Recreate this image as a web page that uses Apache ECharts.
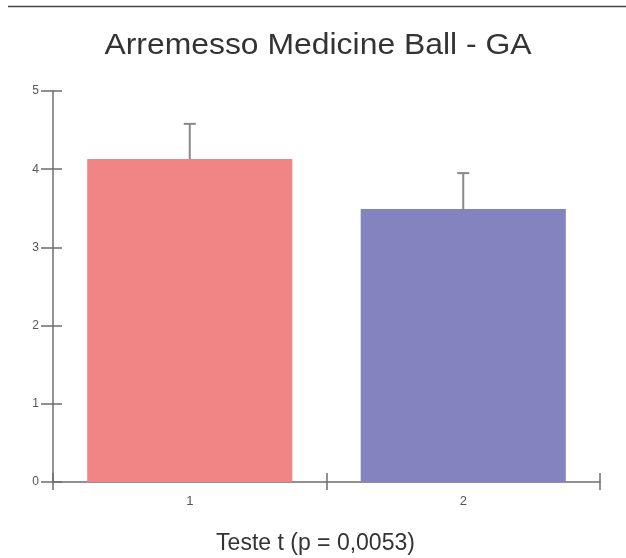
<!DOCTYPE html>
<html><head><meta charset="utf-8">
<script src="https://cdn.jsdelivr.net/npm/echarts@6/dist/echarts.min.js"></script>
<style>html,body{margin:0;padding:0;background:#fff}#c{width:626px;height:558px}</style>
</head><body><div id="c"></div>
<script>
const categories = ['1', '2'];
const means = [4.13, 3.49];
const errors = [0.45, 0.46];
const barColors = ['#F18585', '#8383BF'];
const titleText = 'Arremesso Medicine Ball - GA';
const footText = 'Teste t (p = 0,0053)';

const chart = echarts.init(document.getElementById('c'));
const font = 'Liberation Sans, Arial, sans-serif';
const axisColor = '#6e6e6e';
chart.setOption({
  animation: false,
  backgroundColor: '#fff',
  graphic: [
    { type: 'line', shape: { x1: 8, y1: 6.5, x2: 626, y2: 6.5 }, style: { stroke: '#444', lineWidth: 1.5 } },
    { type: 'text', x: 318, y: 46, scaleX: 1.1,
      style: { text: titleText, x: 0, y: 0, textAlign: 'center', textVerticalAlign: 'middle',
        align: 'center', verticalAlign: 'middle',
        font: '29px Liberation Sans, Arial, sans-serif', fill: '#333' } },
    { type: 'text', x: 315.5, y: 544,
      style: { text: footText, x: 0, y: 0, textAlign: 'center', textVerticalAlign: 'middle',
        align: 'center', verticalAlign: 'middle',
        font: '23px Liberation Sans, Arial, sans-serif', fill: '#333' } }
  ],
  grid: { left: 53, right: 26, top: 91, bottom: 76 },
  xAxis: [
    { type: 'category', data: categories,
      axisLine: { lineStyle: { color: axisColor, width: 1.5 } },
      axisTick: { show: true, length: 8, interval: 0, lineStyle: { color: axisColor, width: 1.5 } },
      axisLabel: { color: '#555', fontFamily: font, fontSize: 13, margin: 13 } },
    { type: 'category', data: categories, position: 'bottom',
      axisLine: { show: false },
      axisTick: { show: true, inside: true, length: 9, interval: 0, lineStyle: { color: axisColor, width: 1.5 } },
      axisLabel: { show: false } }
  ],
  yAxis: [
    { type: 'value', min: 0, max: 5, interval: 1,
      axisLine: { show: true, lineStyle: { color: axisColor, width: 1.5 } },
      axisTick: { show: true, length: 12, lineStyle: { color: axisColor, width: 1.5 } },
      axisLabel: { color: '#555', fontFamily: font, fontSize: 12, margin: 14 },
      splitLine: { show: false } },
    { type: 'value', min: 0, max: 5, interval: 1, position: 'left',
      axisLine: { show: false },
      axisTick: { show: true, inside: true, length: 9, lineStyle: { color: axisColor, width: 1.5 } },
      axisLabel: { show: false }, splitLine: { show: false } }
  ],
  series: [
    { type: 'bar', data: means.map((v, i) => ({ value: v, itemStyle: { color: barColors[i] } })),
      barWidth: '75%' },
    { type: 'custom',
      data: means.map((v, i) => [i, v, v + errors[i]]),
      renderItem: function (params, api) {
        const p0 = api.coord([api.value(0), api.value(1)]);
        const p1 = api.coord([api.value(0), api.value(2)]);
        return { type: 'group', children: [
          { type: 'line', shape: { x1: p0[0], y1: p0[1], x2: p1[0], y2: p1[1] }, style: { stroke: '#888', lineWidth: 2 } },
          { type: 'line', shape: { x1: p1[0] - 6, y1: p1[1], x2: p1[0] + 6, y2: p1[1] }, style: { stroke: '#888', lineWidth: 2 } }
        ] };
      },
      z: 5 }
  ]
});
</script></body></html>
